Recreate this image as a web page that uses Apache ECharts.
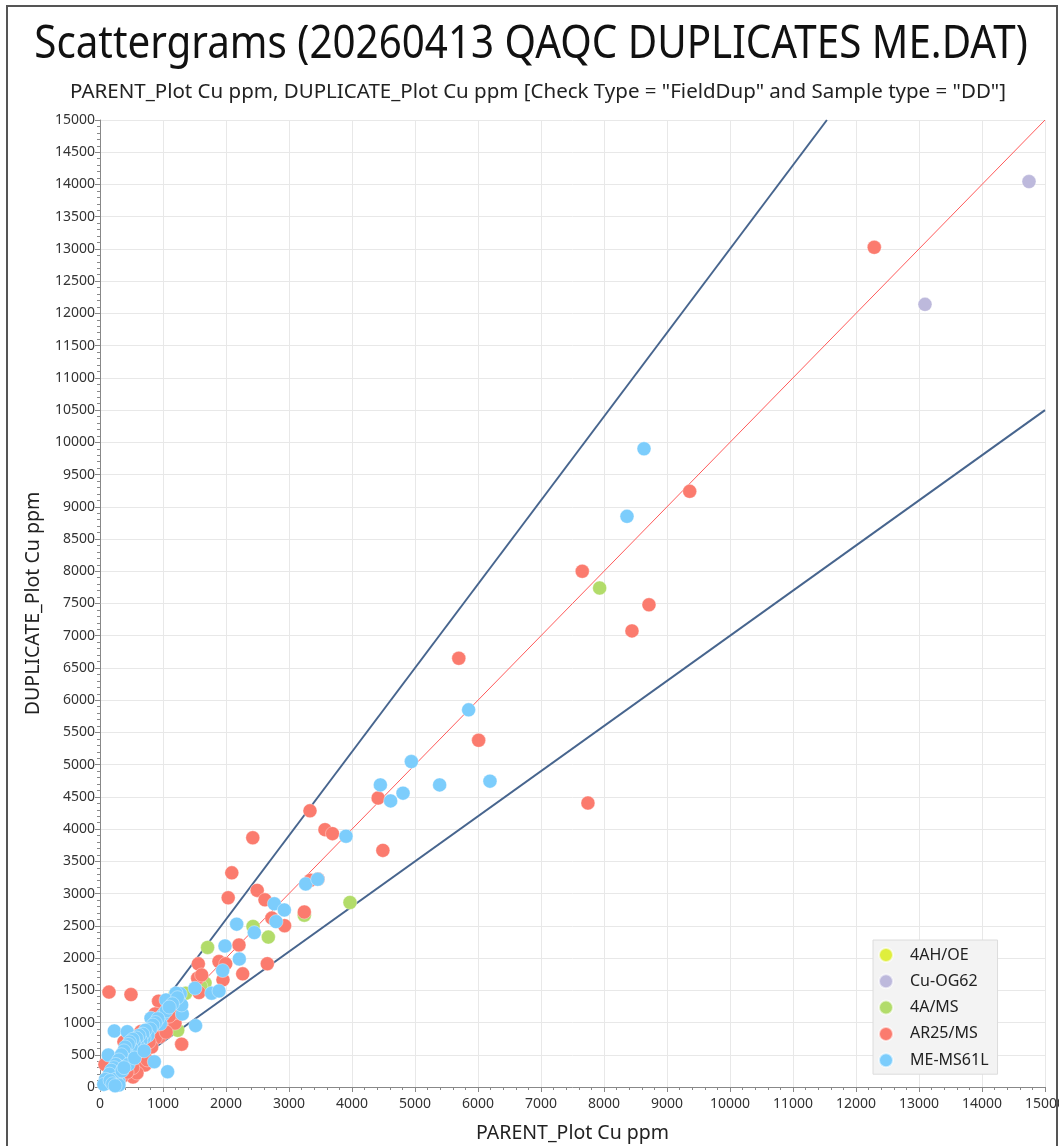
<!DOCTYPE html>
<html>
<head>
<meta charset="utf-8">
<script src="https://cdn.jsdelivr.net/npm/echarts@6/dist/echarts.min.js"></script>
<style>
html,body{margin:0;padding:0;background:#fff;}
#chart{width:1059px;height:1146px;}
</style>
</head>
<body>
<div id="chart"></div>
<script>
// ---------- DATA ----------
const titleText = "Scattergrams (20260413 QAQC DUPLICATES ME.DAT)";
const subtitleText = 'PARENT_Plot Cu ppm, DUPLICATE_Plot Cu ppm [Check Type = "FieldDup" and Sample type = "DD"]';
const xAxisName = "PARENT_Plot Cu ppm";
const yAxisName = "DUPLICATE_Plot Cu ppm";
const seriesNames = ["4AH/OE", "Cu-OG62", "4A/MS", "AR25/MS", "ME-MS61L"];
const seriesColors = ["#dfee3c", "#bdb9dc", "#b2dc6a", "#fb7b6e", "#7ccdfc"];

const data_4AH_OE = [];
const data_Cu_OG62 = [[14746, 14045], [13095, 12140]];
const data_4A_MS = [
  [7931, 7740], [3968, 2862], [3243, 2665], [2429, 2490], [2672, 2325], [1708, 2165],
  [1667, 1612], [1360, 1455], [1233, 880], [1190, 1430], [1600, 1560]
];
const data_AR25_MS = [
  [12290, 13025], [9360, 9240], [7655, 8000], [8714, 7480], [8444, 7075], [7745, 4405],
  [5695, 6650], [6010, 5378], [4415, 4482], [4490, 3670], [3333, 4284], [3571, 3992],
  [3690, 3930], [2425, 3866], [2092, 3322], [2495, 3050], [2035, 2935], [2619, 2903],
  [2728, 2620], [2930, 2502], [3243, 2714], [3340, 3206], [3460, 3225], [2206, 2202],
  [2656, 1912], [1561, 1910], [1889, 1946], [1995, 1910], [2265, 1755], [1550, 1688],
  [1614, 1738], [1952, 1662], [1571, 1465], [143, 1472], [492, 1434], [930, 1332],
  [873, 1134], [1005, 1092], [1111, 1144], [978, 1068], [1058, 990], [1190, 990],
  [1296, 664], [1000, 860], [900, 940], [1150, 1200], [1250, 1320], [1180, 1150],
  [1100, 1100], [950, 780], [880, 760], [1050, 850], [680, 560], [820, 620],
  [780, 700], [560, 640], [640, 500], [420, 600], [380, 700], [330, 420],
  [470, 480], [600, 380], [714, 341], [750, 420], [444, 232], [524, 155], [587, 217],
  [300, 260], [200, 340], [79, 350], [100, 80], [180, 200], [260, 150], [220, 90],
  [350, 160], [700, 820], [650, 860], [520, 300], [430, 230]
];
const data_ME_MS61L = [
  [8635, 9900], [8365, 8852], [5851, 5850], [4942, 5048], [4450, 4686], [4613, 4438],
  [4810, 4558], [5391, 4686], [6190, 4744], [3905, 3890], [3265, 3150], [3455, 3222],
  [2767, 2842], [2926, 2746], [2794, 2566], [2169, 2526], [2449, 2395], [1984, 2188],
  [2211, 1986], [1947, 1806], [1508, 1532], [1772, 1455], [1889, 1490], [1275, 1445],
  [1206, 1455], [1048, 1350], [1306, 1133], [810, 1067], [1259, 1324], [1296, 1273],
  [1517, 952], [227, 869], [433, 858], [132, 496], [862, 392], [1073, 237], [661, 574],
  [1230, 1385], [1150, 1290], [1000, 1120], [1050, 1180], [1100, 1240], [960, 980],
  [920, 1060], [880, 1000], [840, 960], [800, 900], [760, 800], [720, 880], [700, 760],
  [680, 820], [650, 720], [620, 800], [600, 640], [580, 760], [540, 680], [520, 740],
  [500, 600], [470, 700], [450, 660], [420, 520], [400, 620], [380, 560], [360, 460],
  [340, 500], [320, 380], [300, 420], [280, 330], [270, 180], [250, 350], [220, 300],
  [200, 150], [180, 260], [150, 200], [120, 60], [90, 120], [60, 40], [300, 80],
  [250, 120], [350, 250], [450, 350], [550, 450], [160, 100], [200, 50], [380, 300],
  [700, 560], [300, 30], [240, 20]
];

const xTicks = [0, 1000, 2000, 3000, 4000, 5000, 6000, 7000, 8000, 9000, 10000, 11000, 12000, 13000, 14000, 15000];
const yTicks = [0, 500, 1000, 1500, 2000, 2500, 3000, 3500, 4000, 4500, 5000, 5500, 6000, 6500, 7000, 7500, 8000, 8500, 9000, 9500, 10000, 10500, 11000, 11500, 12000, 12500, 13000, 13500, 14000, 14500, 15000];

// reference lines: 1:1 and +/-30 %
const refSlopes = [1.3, 0.7];
const equalSlope = 1;

// ---------- BUILD ----------
const xMax = xTicks[xTicks.length - 1];
const yMax = yTicks[yTicks.length - 1];
function refLine(slope) {
  const x2 = Math.min(xMax, yMax / slope);
  return [[0, 0], [x2, x2 * slope]];
}
const allData = [data_4AH_OE, data_Cu_OG62, data_4A_MS, data_AR25_MS, data_ME_MS61L];

const font = "'Noto Sans', 'Open Sans', sans-serif";
const chart = echarts.init(document.getElementById('chart'));

const series = [];
refSlopes.forEach((s, i) => {
  series.push({
    name: 'ref' + i, type: 'line', data: refLine(s), symbol: 'none', silent: true,
    lineStyle: { color: '#47658e', width: 2 }, z: 1, animation: false
  });
});
series.push({
  name: 'equal', type: 'line', data: refLine(equalSlope), symbol: 'none', silent: true,
  lineStyle: { color: '#ff5a5a', width: 1 }, z: 1, animation: false
});
seriesNames.forEach((n, i) => {
  series.push({
    name: n, type: 'scatter', data: allData[i], symbol: 'circle', symbolSize: 14,
    itemStyle: { color: seriesColors[i], opacity: 1, borderColor: 'rgba(255,255,255,0.6)', borderWidth: 0.6 },
    z: 2 + i, animation: false
  });
});

const plainNum = v => String(v);

chart.setOption({
  backgroundColor: '#fff',
  animation: false,
  legend: {
    data: seriesNames, orient: 'vertical', left: 873, top: 940,
    backgroundColor: '#f3f3f3', borderColor: '#dcdcdc', borderWidth: 1,
    padding: [6, 9, 5, 5], itemGap: 8.3, itemWidth: 14, itemHeight: 14, icon: 'circle',
    textStyle: { fontFamily: font, fontSize: 16, lineHeight: 18, color: '#222', padding: [0, 0, 0, 12] }
  },
  grid: { left: 100, right: 14, top: 120, bottom: 59, containLabel: false, outerBoundsMode: 'none' },
  xAxis: {
    type: 'value', min: 0, max: xMax, interval: 1000,
    name: xAxisName, nameLocation: 'middle', nameGap: 36,
    nameTextStyle: { fontFamily: font, fontSize: 19.5, color: '#222' },
    axisLine: { show: true, onZero: false, lineStyle: { color: '#888' } },
    axisTick: { show: true, length: 5, lineStyle: { color: '#888' } },
    minorTick: { show: true, splitNumber: 5, length: 3, lineStyle: { color: '#888' } },
    splitLine: { show: true, lineStyle: { color: '#e8e8e8' } },
    axisLabel: { fontFamily: font, fontSize: 14, color: '#333', margin: 10, formatter: plainNum, hideOverlap: false }
  },
  yAxis: {
    type: 'value', min: 0, max: yMax, interval: 500,
    name: yAxisName, nameLocation: 'middle', nameGap: 57,
    nameTextStyle: { fontFamily: font, fontSize: 19.5, color: '#222' },
    axisLine: { show: true, onZero: false, lineStyle: { color: '#888' } },
    axisTick: { show: true, length: 5, lineStyle: { color: '#888' } },
    minorTick: { show: true, splitNumber: 5, length: 3, lineStyle: { color: '#888' } },
    splitLine: { show: true, lineStyle: { color: '#e8e8e8' } },
    axisLabel: { fontFamily: font, fontSize: 14, color: '#333', margin: 5, formatter: plainNum, hideOverlap: false }
  },
  graphic: [
    { type: 'rect', shape: { x: 7, y: 6, width: 1050, height: 1160 },
      style: { fill: 'none', stroke: '#555', lineWidth: 2 }, silent: true, z: 100 },
    { type: 'text', x: 531, y: 45, scaleX: 0.877, silent: true, z: 100,
      style: { text: titleText, fontFamily: font, fontSize: 46, fill: '#111', align: 'center', verticalAlign: 'middle' } },
    { type: 'text', x: 538, y: 92, silent: true, z: 100,
      style: { text: subtitleText, fontFamily: font, fontSize: 20.5, fill: '#222', align: 'center', verticalAlign: 'middle' } }
  ],
  series: series
});
</script>
</body>
</html>
